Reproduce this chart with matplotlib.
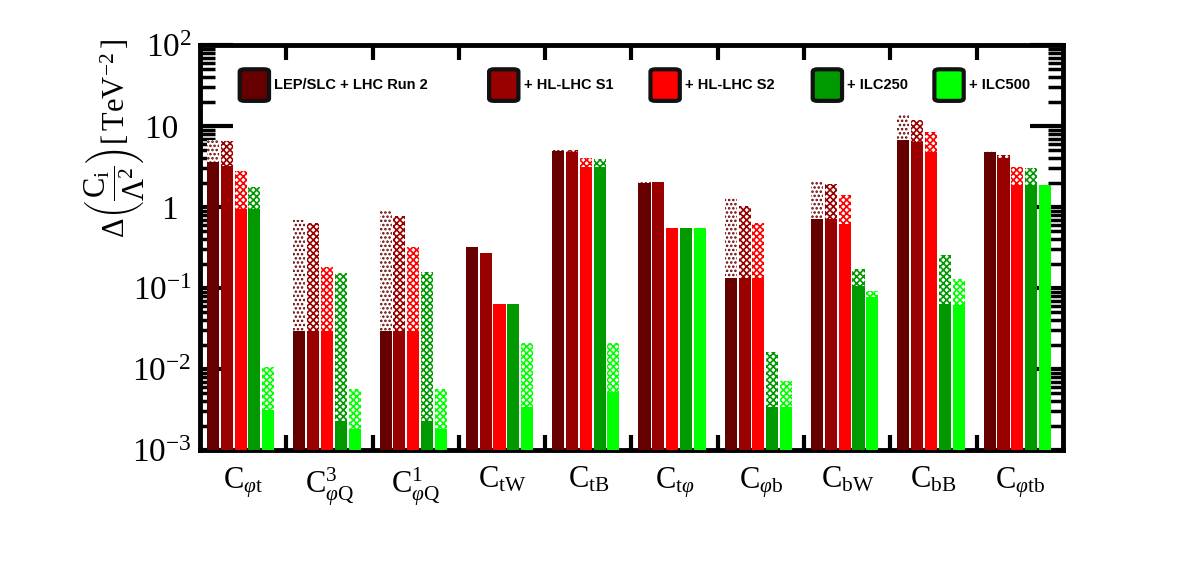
import numpy as np
import matplotlib
matplotlib.use("Agg")
import matplotlib.pyplot as plt
from matplotlib.patches import FancyBboxPatch
from matplotlib.ticker import LogLocator, NullFormatter, FixedLocator

plt.rcParams['font.family'] = ['Liberation Serif', 'DejaVu Serif']
plt.rcParams['mathtext.fontset'] = 'custom'
plt.rcParams['mathtext.rm'] = 'Liberation Serif'
plt.rcParams['mathtext.it'] = 'Liberation Serif:italic'
plt.rcParams['mathtext.bf'] = 'Liberation Serif:bold'
plt.rcParams['hatch.linewidth'] = 1.2

# operators on the x axis
labels = [r'$\mathrm{C}_{\varphi\mathrm{t}}$', r'$\mathrm{C}^{3}_{\varphi\mathrm{Q}}$',
          r'$\mathrm{C}^{1}_{\varphi\mathrm{Q}}$', r'$\mathrm{C}_{\mathrm{tW}}$',
          r'$\mathrm{C}_{\mathrm{tB}}$', r'$\mathrm{C}_{\mathrm{t}\varphi}$',
          r'$\mathrm{C}_{\varphi\mathrm{b}}$', r'$\mathrm{C}_{\mathrm{bW}}$',
          r'$\mathrm{C}_{\mathrm{bB}}$', r'$\mathrm{C}_{\varphi\mathrm{tb}}$']

scenarios = ['LEP/SLC + LHC Run 2', '+ HL-LHC S1', '+ HL-LHC S2', '+ ILC250', '+ ILC500']
colors = ['#660000', '#990000', '#ff0000', '#009900', '#00ff00']

# individual (solid) limits per scenario, one list per scenario over the 10 operators
indiv_run2 = [3.6, 0.0295, 0.0295, 0.32, 4.9, 1.96, 0.133, 0.71, 6.7, 4.8]
indiv_s1 = [3.25, 0.0295, 0.0295, 0.273, 4.73, 2.04, 0.133, 0.71, 6.3, 4.0]
indiv_s2 = [0.94, 0.0295, 0.0295, 0.064, 3.09, 0.55, 0.133, 0.62, 4.73, 1.87]
indiv_ilc250 = [0.94, 0.0023, 0.0023, 0.064, 3.09, 0.55, 0.0034, 0.107, 0.064, 1.87]
indiv_ilc500 = [0.0031, 0.0018, 0.0018, 0.0034, 0.0052, 0.55, 0.0034, 0.078, 0.062, 1.87]

# marginalised (hatched) limits
glob_run2 = [6.7, 0.69, 0.92, 0.32, 5.1, 2.09, 1.33, 2.11, 13.5, 4.9]
glob_s1 = [6.5, 0.63, 0.77, 0.273, 5.0, 2.04, 1.03, 1.90, 11.9, 4.38]
glob_s2 = [2.78, 0.18, 0.32, 0.064, 4.03, 0.55, 0.634, 1.39, 8.4, 3.15]
glob_ilc250 = [1.75, 0.153, 0.156, 0.064, 3.92, 0.55, 0.016, 0.17, 0.255, 3.03]
glob_ilc500 = [0.0105, 0.0056, 0.0056, 0.021, 0.021, 0.55, 0.0071, 0.091, 0.129, 1.87]

indiv = [indiv_run2, indiv_s1, indiv_s2, indiv_ilc250, indiv_ilc500]
glob = [glob_run2, glob_s1, glob_s2, glob_ilc250, glob_ilc500]
hatches = ['....', 'xxxxx', 'xxxxx', 'xxxxx', 'xxxxx']

ymin, ymax = 1e-3, 1e2

fig = plt.figure(figsize=(11.82, 5.63), dpi=100)
ax = fig.add_axes([0.1692, 0.2007, 0.7301, 0.7194])

x = np.arange(len(labels))
for j in range(len(scenarios)):
    left = x + 0.081 + 0.16 * j
    g = np.array(glob[j])
    s = np.array(indiv[j])
    ax.bar(left, g - ymin, bottom=ymin, width=0.14, align='edge',
           facecolor='white', edgecolor=colors[j], hatch=hatches[j], linewidth=0, zorder=2)
    ax.bar(left, s - ymin, bottom=ymin, width=0.14, align='edge',
           color=colors[j], linewidth=0, zorder=3)

ax.set_yscale('log')
ax.set_ylim(ymin, ymax)
ax.set_xlim(0, len(labels))

# ticks ROOT style
ax.xaxis.set_major_locator(FixedLocator(np.arange(1, len(labels))))
ax.xaxis.set_major_formatter(NullFormatter())
ax.xaxis.set_minor_locator(FixedLocator(x + 0.5))
ax.set_xticklabels(labels, minor=True, fontsize=22)
ax.tick_params(axis='x', which='major', direction='in', length=11, width=3, top=True, bottom=True)
ax.tick_params(axis='x', which='minor', length=0, pad=11)
ax.yaxis.set_minor_locator(LogLocator(base=10, subs=np.arange(2, 10), numticks=10))
ax.yaxis.set_minor_formatter(NullFormatter())
ax.set_yticks([1e-3, 1e-2, 1e-1, 1, 10, 100])
ax.set_yticklabels([r'$10^{-3}$', r'$10^{-2}$', r'$10^{-1}$', '1\u2009\u2009', '10\u2009\u2009', r'$10^{2}$'])
ax.tick_params(axis='y', which='major', direction='in', length=24, width=3, left=True, right=True, labelsize=24, pad=6)
ax.tick_params(axis='y', which='minor', direction='in', length=11, width=2.5, left=True, right=True)

for sp in ax.spines.values():
    sp.set_linewidth(3.5)

fig.text(0.097, 0.93, r'$\Delta\left(\dfrac{\mathrm{C}_{\mathrm{i}}}{\Lambda^{2}}\right)[\,\mathrm{TeV}^{-2}\,]$',
         rotation=90, ha='center', va='top', fontsize=22)

# legend drawn inside the frame
leg_x = [0.046, 0.335, 0.522, 0.710, 0.851]
for j, name in enumerate(scenarios):
    box = FancyBboxPatch((leg_x[j], 0.862), 0.034, 0.078, transform=ax.transAxes,
                         boxstyle='round,pad=0,rounding_size=0.006', facecolor=colors[j],
                         edgecolor='#111111', linewidth=3, zorder=5)
    ax.add_patch(box)
    ax.text(leg_x[j] + 0.040, 0.901, name, transform=ax.transAxes, ha='left', va='center',
            fontsize=10.5, fontweight='bold', family='Liberation Sans', zorder=5)

fig.savefig('out.png', dpi=100, facecolor='white')
